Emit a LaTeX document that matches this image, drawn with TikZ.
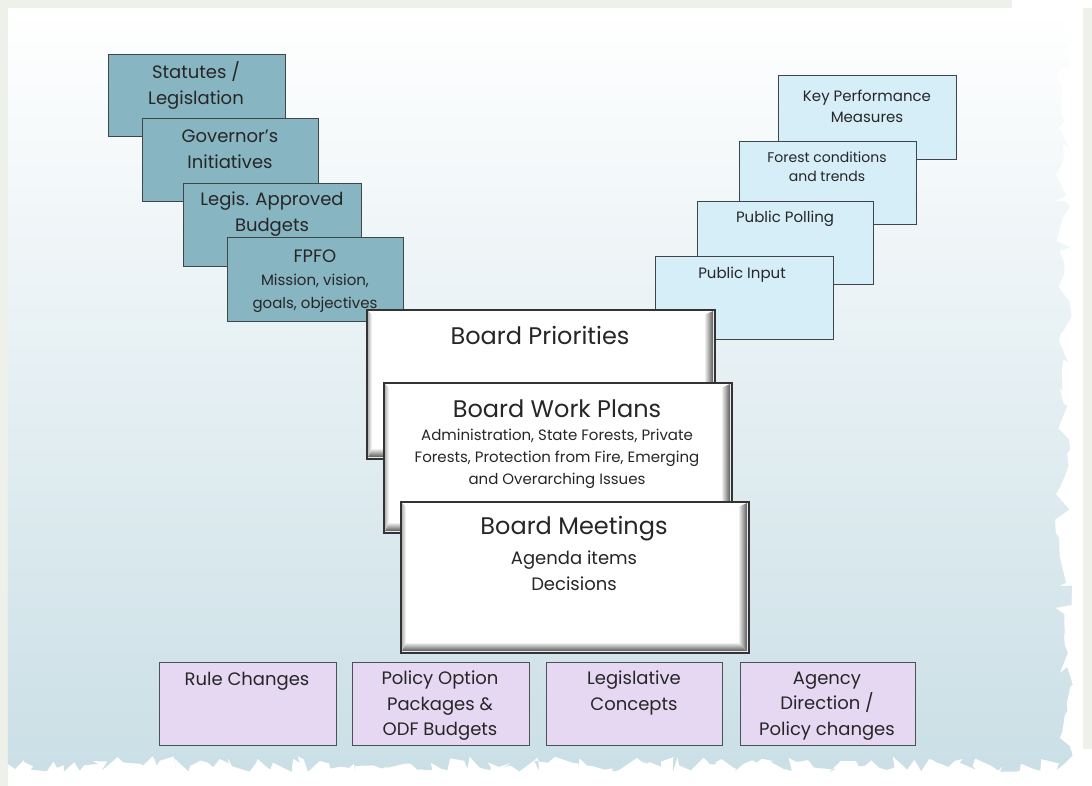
\documentclass[tikz,border=0pt]{standalone}
\usepackage{fontspec}
\setmainfont{Poppins}
\usetikzlibrary{decorations.pathmorphing,calc}
\definecolor{framegrey}{HTML}{EEF0EA}
\definecolor{bgblue}{HTML}{CADFE6}
\definecolor{bgmid}{HTML}{EAF3F6}
\definecolor{tealfill}{HTML}{88B5C2}
\definecolor{skyfill}{HTML}{D6EEF8}
\definecolor{lilac}{HTML}{E6D8F3}
\definecolor{edge}{HTML}{3E464A}
\definecolor{bevdark}{HTML}{5A5A5A}
\definecolor{bevlight}{HTML}{B8B8B8}
\tikzset{
  boxbase/.style={rectangle, draw=edge, line width=1.2pt, inner sep=0pt, anchor=north west},
  tealbox/.style={boxbase, fill=tealfill},
  skybox/.style={boxbase, fill=skyfill},
  lilacbox/.style={boxbase, fill=lilac, draw=edge!80!gray},
  whitebox/.style={boxbase, fill=white, draw=black!80},
  txt/.style={align=center, inner sep=0pt, text=black!85},
}
\newcommand{\plainbox}[6]{%
  \node[#2, minimum width={#5-#3}, minimum height={#6-#4}] (#1) at (#3,#4) {};}
\newcommand{\bevelbox}[5]{%
  \node[whitebox, minimum width={#4-#2}, minimum height={#5-#3}] (#1) at (#2,#3) {};
  \shade[left color=white, right color=bevdark] ({#4-10},{#3+5}) -- ({#4-1},{#3+1}) -- ({#4-1},{#5-1}) -- ({#4-10},{#5-10}) -- cycle;
  \shade[top color=white, bottom color=bevdark] ({#2+5},{#5-10}) -- ({#4-10},{#5-10}) -- ({#4-1},{#5-1}) -- ({#2+1},{#5-1}) -- cycle;
  \shade[left color=bevlight, right color=white] ({#2+1},{#3+1}) -- ({#2+5},{#3+5}) -- ({#2+5},{#5-10}) -- ({#2+1},{#5-1}) -- cycle;
  \draw[black!80, line width=1.2pt] (#1.north west) rectangle (#1.south east);}
\begin{document}
\begin{tikzpicture}[x=1pt,y=-1pt]
\useasboundingbox (0,0) rectangle (1092,786);
% frame and paper
\fill[framegrey] (0,0) rectangle (1092,786);
\fill[white] (8,8) rectangle (1083,786);
\fill[white] (1012,0) rectangle (1092,8);
\fill[white] (1083,749) rectangle (1092,786);
\pgfmathsetseed{23}
\shade[top color=white, middle color=bgmid, bottom color=bgblue]
  (8,8) -- (1064,8)
  decorate[decoration={random steps,segment length=9pt,amplitude=9pt}]{-- (1064,764)}
  decorate[decoration={random steps,segment length=6pt,amplitude=8pt}]{-- (8,764)} -- cycle;

% left stack
\plainbox{stat}{tealbox}{108}{54}{285}{136}
\node[txt, font=\fontsize{18}{26}\selectfont] (tstat) at (196,85) {Statutes /\\Legislation};
\plainbox{gov}{tealbox}{142}{118}{318}{201}
\node[txt, font=\fontsize{18}{26}\selectfont] (tgov) at (230,149) {Governor’s\\Initiatives};
\plainbox{leg}{tealbox}{183}{183}{361}{266}
\node[txt, font=\fontsize{18}{26}\selectfont] (tleg) at (272,214) {Legis. Approved\\Budgets};
\plainbox{fpfo}{tealbox}{227}{237}{403}{321}
\node[txt, font=\fontsize{15}{23}\selectfont] (tfpfo) at (315,281) {{\fontsize{18}{23}\selectfont FPFO}\\Mission, vision,\\goals, objectives};

% right stack
\plainbox{kpm}{skybox}{778}{75}{956}{159}
\node[txt, font=\fontsize{15}{21}\selectfont] (tkpm) at (867,106) {Key Performance\\Measures};
\plainbox{fc}{skybox}{739}{141}{916}{224}
\node[txt, font=\fontsize{14}{19}\selectfont] (tfc) at (827,167) {Forest conditions\\and trends};
\plainbox{pp}{skybox}{697}{201}{873}{284}
\node[txt, font=\fontsize{15}{21}\selectfont] (tpp) at (785,219) {Public Polling};
\plainbox{pi}{skybox}{655}{256}{833}{339}
\node[txt, font=\fontsize{15}{21}\selectfont] (tpi) at (742,275) {Public Input};

% central stack
\bevelbox{bp}{367}{310}{714}{458}
\node[txt, font=\fontsize{24}{30}\selectfont] (tbp) at (540,335) {Board Priorities};
\bevelbox{bwp}{384}{383}{731}{532}
\node[txt, font=\fontsize{24}{30}\selectfont] (tbwp) at (557,409) {Board Work Plans};
\node[txt, font=\fontsize{15}{22}\selectfont] (tbwps) at (557,459) {Administration, State Forests, Private\\Forests, Protection from Fire, Emerging\\and Overarching Issues};
\bevelbox{bm}{401}{502}{748}{652}
\node[txt, font=\fontsize{24}{30}\selectfont] (tbm) at (574,529) {Board Meetings};
\node[txt, font=\fontsize{18}{26}\selectfont] (tbms) at (574,571) {Agenda items\\Decisions};

% outputs
\plainbox{rc}{lilacbox}{159}{662}{336}{745}
\node[txt, font=\fontsize{18}{25.5}\selectfont] (trc) at (247,681) {Rule Changes};
\plainbox{po}{lilacbox}{352}{662}{529}{745}
\node[txt, font=\fontsize{18}{25.5}\selectfont] (tpo) at (440,706) {Policy Option\\Packages \&\\ODF Budgets};
\plainbox{lc}{lilacbox}{546}{662}{722}{745}
\node[txt, font=\fontsize{18}{25.5}\selectfont] (tlc) at (634,693) {Legislative\\Concepts};
\plainbox{ad}{lilacbox}{740}{662}{915}{745}
\node[txt, font=\fontsize{18}{25.5}\selectfont] (tad) at (827,706) {Agency\\Direction /\\Policy changes};
\end{tikzpicture}
\end{document}
